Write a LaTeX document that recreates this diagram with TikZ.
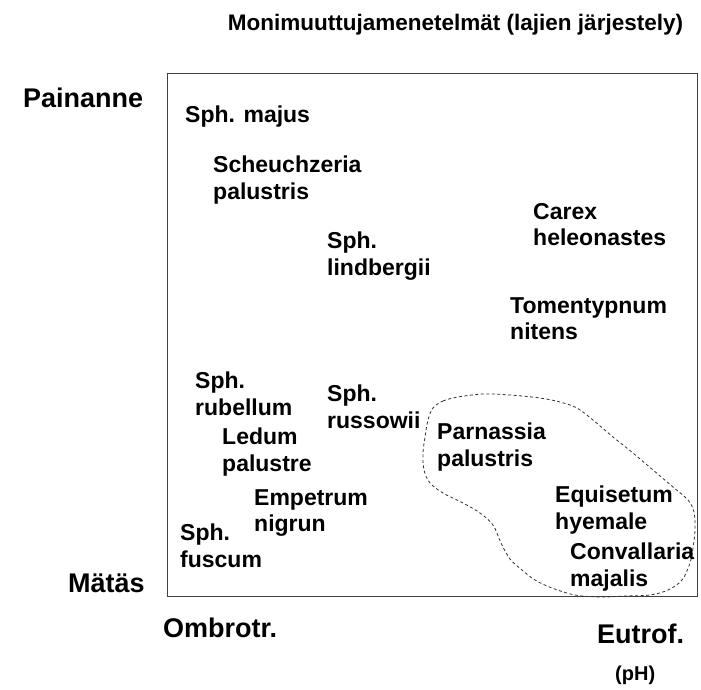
\documentclass[tikz,border=0pt]{standalone}
\usepackage{fontspec}
\setmainfont{Liberation Sans}
\begin{document}
\begin{tikzpicture}[x=1pt,y=-1pt,
  species/.style={anchor=north west, inner sep=0pt, align=left,
    font=\bfseries\fontsize{23}{26.5}\selectfont},
  axislabel/.style={anchor=base west, inner sep=0pt,
    font=\bfseries\fontsize{27}{30}\selectfont},
  titlelabel/.style={anchor=base, inner sep=0pt,
    font=\bfseries\fontsize{22.5}{26}\selectfont},
  framebox/.style={draw=black!75, line width=1.2pt, anchor=north west,
    inner sep=0pt, minimum width=530pt, minimum height=523pt},
  groupline/.style={draw=black!80, line width=0.8pt, dash pattern=on 3pt off 2.5pt}]
\useasboundingbox (0,0) rectangle (701,689);
\fill[white] (0,0) rectangle (701,689);

\node[framebox] (frame) at (167,73) {};

\node[titlelabel] (title) at (455.5,30) {Monimuuttujamenetelmät (lajien järjestely)};
\node[axislabel] (painanne) at (23,107) {Painanne};
\node[axislabel] (matas) at (68,592) {Mätäs};
\node[axislabel] (ombrotr) at (163,637) {Ombrotr.};
\node[axislabel] (eutrof) at (597,643) {Eutrof.};
\node[anchor=base west, inner sep=0pt, font=\bfseries\fontsize{20}{24}\selectfont] (ph) at (615,680) {(pH)};

\draw[groupline] plot[smooth cycle, tension=0.55] coordinates {
 (433,408) (443,401) (458,397) (483,394) (510,395) (540,398) (560,402)
 (577,408) (593,420) (613,437) (633,453) (653,470) (673,487) (688,500)
 (694,512) (695,530) (693,548) (690,563) (682,580) (668,590) (650,595)
 (625,596) (600,597) (575,595) (552,588) (535,580) (522,570) (510,559)
 (501,543) (493,525) (480,513) (463,503) (443,493) (430,483) (424,470)
 (423,453) (425,437) (428,420)};

\node[species] (majus) at (185,106) {Sph. majus};
\node[species] (scheuch) at (213,156) {Scheuchzeria\\palustris};
\node[species] (lindb) at (327,232) {Sph.\\lindbergii};
\node[species] (carex) at (533,203) {Carex\\heleonastes};
\node[species] (toment) at (510,297) {Tomentypnum\\nitens};
\node[species] (rubel) at (195,372) {Sph.\\rubellum};
\node[species] (russ) at (327,385) {Sph.\\russowii};
\node[species] (ledum) at (222,428) {Ledum\\palustre};
\node[species] (parn) at (437,423) {Parnassia\\palustris};
\node[species] (empet) at (254,489) {Empetrum\\nigrun};
\node[species] (equis) at (555,486) {Equisetum\\hyemale};
\node[species] (fuscum) at (180,524) {Sph.\\fuscum};
\node[species] (conv) at (570,543) {Convallaria\\majalis};
\end{tikzpicture}
\end{document}
